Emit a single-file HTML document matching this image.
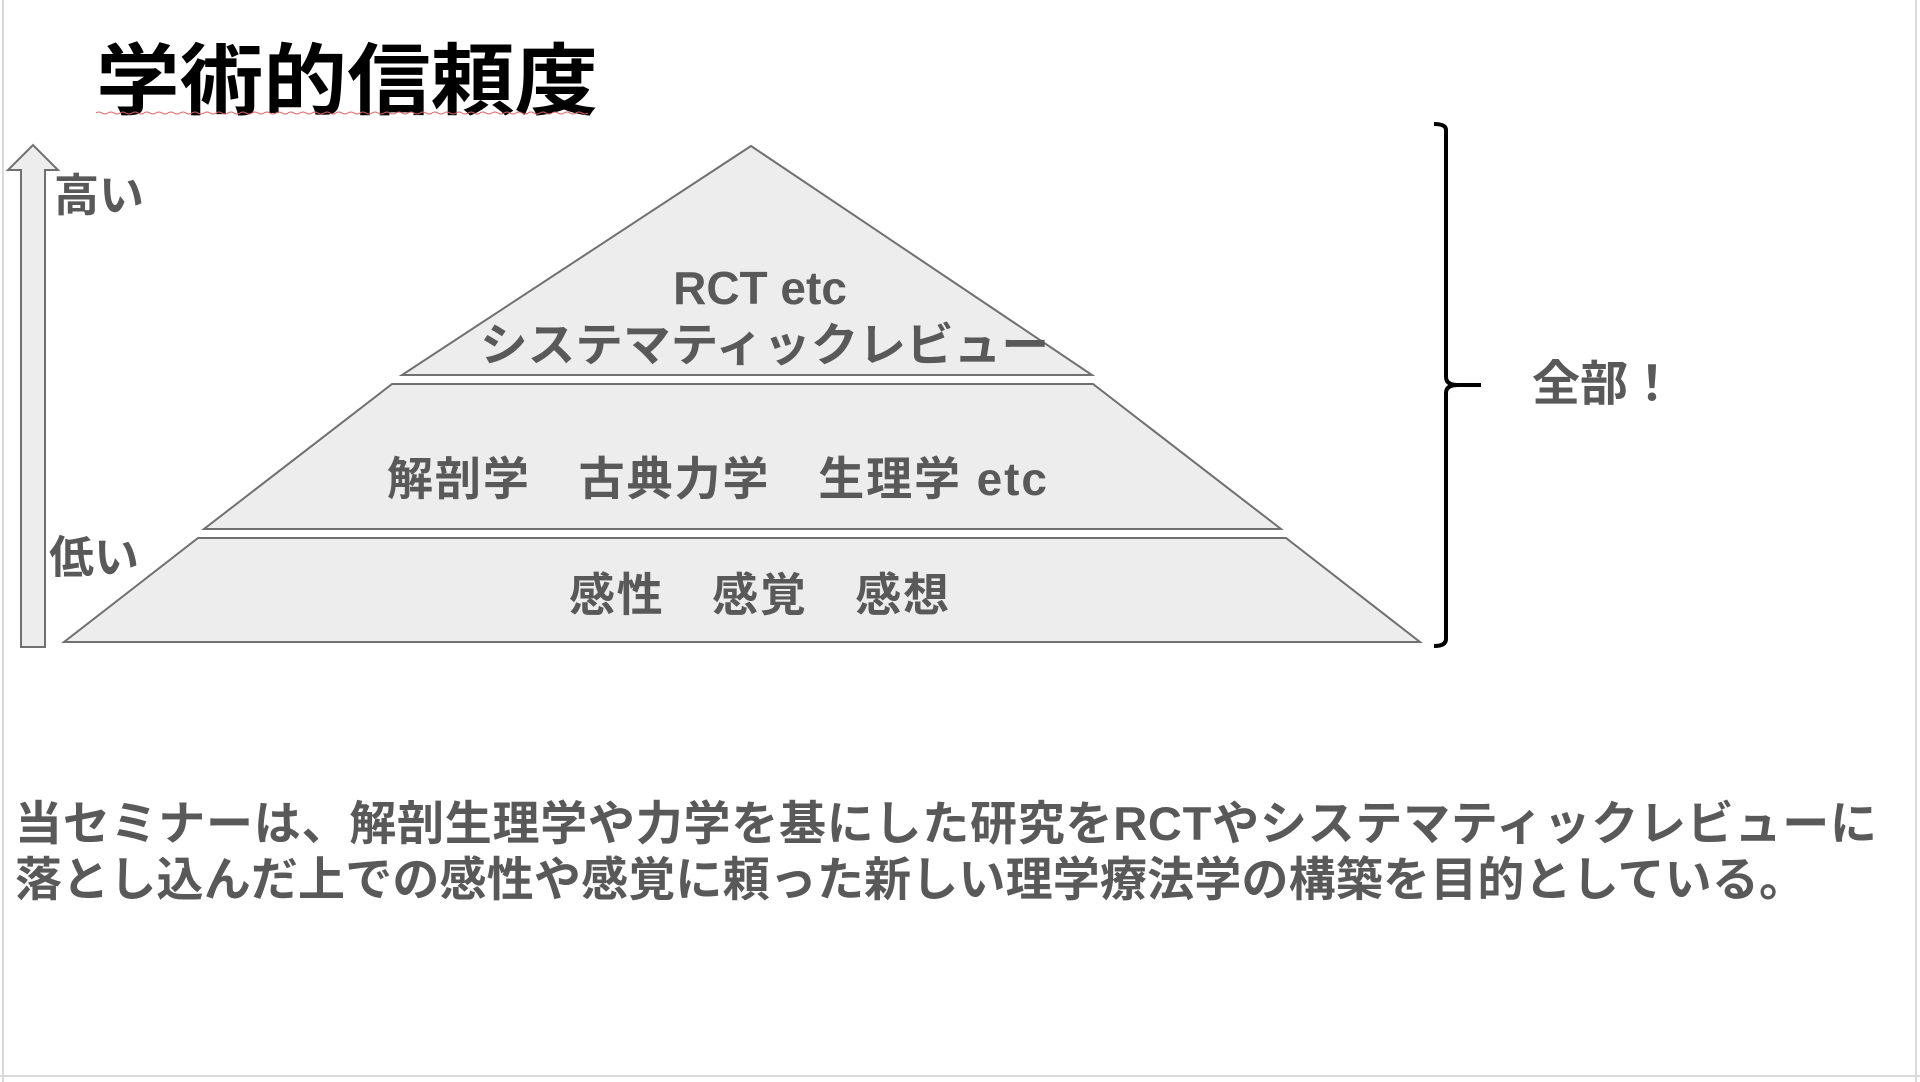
<!DOCTYPE html>
<html><head><meta charset="utf-8">
<style>
html,body{margin:0;padding:0;background:#fff;}
body{width:1920px;height:1082px;overflow:hidden;position:relative;}
svg{position:absolute;left:0;top:0;}
text{font-family:"Liberation Sans","Noto Sans CJK JP",sans-serif;font-weight:bold;fill:#595959;}
text.cjk{font-family:"Noto Sans CJK JP",sans-serif;}
</style></head><body>
<svg width="1920" height="1082" viewBox="0 0 1920 1082">
<line x1="3" y1="0" x2="3" y2="1082" stroke="#d9d9d9" stroke-width="2"/>
<line x1="1916" y1="0" x2="1916" y2="1082" stroke="#d9d9d9" stroke-width="2"/>
<line x1="0" y1="1076" x2="1920" y2="1076" stroke="#d9d9d9" stroke-width="2"/>
<text x="96" y="108" font-size="78" style="fill:#000" textLength="502" lengthAdjust="spacingAndGlyphs">学術的信頼度</text>
<path d="M96 113 q3 -2 6 0 t6 0 t6 0 t6 0 t6 0 t6 0 t6 0 t6 0 t6 0 t6 0 t6 0 t6 0 t6 0 t6 0 t6 0 t6 0 t6 0 t6 0 t6 0 t6 0 t6 0 t6 0 t6 0 t6 0 t6 0 t6 0 t6 0 t6 0 t6 0 t6 0 t6 0 t6 0 t6 0 t6 0 t6 0 t6 0 t6 0 t6 0 t6 0 t6 0 t6 0 t6 0 t6 0 t6 0 t6 0 t6 0 t6 0 t6 0 t6 0 t6 0 t6 0 t6 0 t6 0 t6 0 t6 0 t6 0 t6 0 t6 0 t6 0 t6 0 t6 0 t6 0 t6 0 t6 0 t6 0 t6 0 t6 0 t6 0 t6 0 t6 0 t6 0 t6 0 t6 0 t6 0 t6 0 t6 0 t6 0 t6 0 t6 0 t6 0 t6 0 t6 0" fill="none" stroke="#e06060" stroke-width="1"/>
<polygon points="21,647 45,647 45,170 58,170 33,145 8,170 21,170" fill="#ededed" stroke="#707070" stroke-width="2"/>
<text x="54" y="211" font-size="45">高い</text>
<text x="49" y="573" font-size="45">低い</text>
<polygon points="751,146 1092,375 402,375" fill="#ededed" stroke="#707070" stroke-width="2"/>
<polygon points="392,384 1093,384 1281,529 204,529" fill="#ededed" stroke="#707070" stroke-width="2"/>
<polygon points="198,538 1286,538 1420,642 64,642" fill="#ededed" stroke="#707070" stroke-width="2"/>
<text x="760" y="304" font-size="46" text-anchor="middle">RCT etc</text>
<text x="480" y="361" font-size="46" textLength="569" lengthAdjust="spacingAndGlyphs">システマティックレビュー</text>
<text x="387" y="495" font-size="46" textLength="660" lengthAdjust="spacing">解剖学　古典力学　生理学 etc</text>
<text x="569" y="611" font-size="46" textLength="380" lengthAdjust="spacing">感性　感覚　感想</text>
<path d="M1434 124 q12 0 12 6 v247 q0 8 12 8 h23 M1458 385 q-12 0 -12 8 v246 q0 7 -12 7" fill="none" stroke="#000" stroke-width="4"/>
<text class="cjk" x="1532" y="400" font-size="48">全部！</text>
<text x="15" y="840" font-size="47" textLength="1862" lengthAdjust="spacing">当セミナーは、解剖生理学や力学を基にした研究をRCTやシステマティックレビューに</text>
<text x="15" y="896" font-size="47" textLength="1791" lengthAdjust="spacing">落とし込んだ上での感性や感覚に頼った新しい理学療法学の構築を目的としている。</text>
</svg>
</body></html>
